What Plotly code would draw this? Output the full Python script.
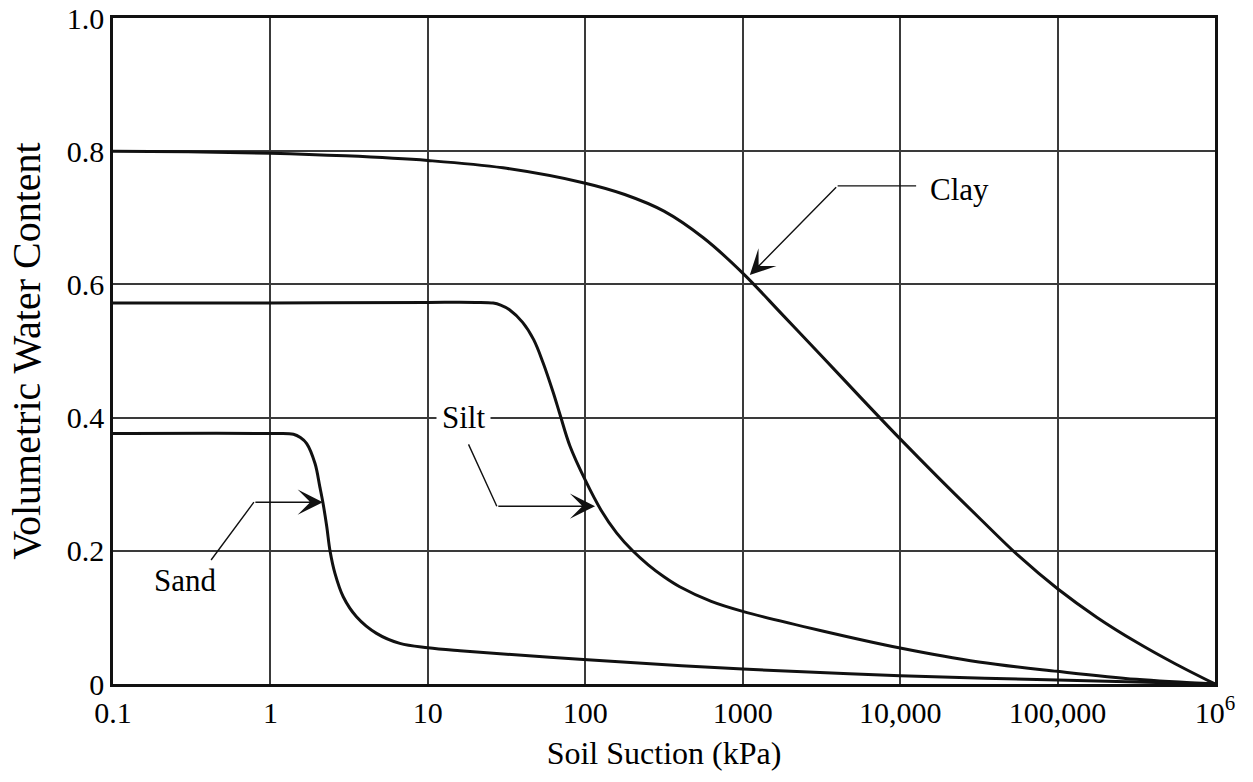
import plotly.graph_objects as go

# ---- data ----
clay_x = [0.1, 0.3, 1, 3, 10, 30, 100, 178, 316, 562, 1000, 1780, 3160, 5620, 10000,
          17800, 31600, 56200, 100000, 178000, 316000, 562000, 1000000]
clay_y = [0.800, 0.799, 0.797, 0.793, 0.786, 0.775, 0.752, 0.735, 0.710, 0.670, 0.617,
          0.555, 0.493, 0.430, 0.368, 0.308, 0.250, 0.193, 0.143, 0.100, 0.063, 0.030, 0.0]

silt_x = [0.1, 1, 10, 20, 26, 29, 33, 40, 47, 54, 62.5, 69, 80, 100, 126, 158, 200,
          251, 316, 398, 631, 1000, 3160, 10000, 31600, 100000, 316000, 1000000]
silt_y = [0.572, 0.572, 0.573, 0.573, 0.572, 0.569, 0.562, 0.543, 0.517, 0.482,
          0.438, 0.405, 0.357, 0.306, 0.261, 0.227, 0.200, 0.179, 0.161, 0.146,
          0.124, 0.109, 0.080, 0.054, 0.033, 0.019, 0.007, 0.0]

sand_x = [0.1, 1, 1.4, 1.55, 1.7, 1.92, 2.06, 2.16, 2.28, 2.39, 2.57, 2.90, 3.52,
          4.72, 6.64, 10, 16, 92, 1000, 10000, 100000, 1000000]
sand_y = [0.376, 0.376, 0.375, 0.370, 0.361, 0.331, 0.296, 0.271, 0.236, 0.200,
          0.166, 0.131, 0.101, 0.076, 0.061, 0.0545, 0.050, 0.037, 0.0225, 0.0125,
          0.006, 0.0]

x_tickvals = [0.1, 1, 10, 100, 1000, 10000, 100000, 1000000]
x_ticktext = ["0.1", "1", "10", "100", "1000", "10,000", "100,000", "10<sup>6</sup>"]
y_tickvals = [0, 0.2, 0.4, 0.6, 0.8, 1.0]
y_ticktext = ["0", "0.2", "0.4", "0.6", "0.8", "1.0"]

FONT = "Liberation Serif"
LINE = "#111111"
GRID = "#3a3a3a"

fig = go.Figure()
for xs, ys, name in [(clay_x, clay_y, "Clay"), (silt_x, silt_y, "Silt"), (sand_x, sand_y, "Sand")]:
    fig.add_trace(go.Scatter(x=xs, y=ys, mode="lines", name=name,
                             line=dict(color=LINE, width=3, shape="spline", smoothing=1.0),
                             showlegend=False, hoverinfo="x+y+name"))

annotations = []

def seg(x0, y0, x1, y1, head):
    # line from (x0,y0) to (x1,y1); x in log10 units (annotation convention on log axes)
    annotations.append(dict(x=x1, y=y1, ax=x0, ay=y0, xref="x", yref="y",
                            axref="x", ayref="y", text="", showarrow=True,
                            arrowhead=3 if head else 0, arrowsize=3.0 if head else 1,
                            arrowwidth=1.4, arrowcolor=LINE, standoff=0, startstandoff=0))

def label(x, y, text, xanchor="center", bg=None):
    annotations.append(dict(x=x, y=y, xref="x", yref="y", text=text, showarrow=False,
                            xanchor=xanchor, yanchor="middle",
                            font=dict(family=FONT, size=31, color="black"),
                            bgcolor=bg if bg else "rgba(0,0,0,0)", borderpad=5))

# Clay
seg(4.111, 0.748, 3.603, 0.748, False)
seg(3.603, 0.748, 3.045, 0.614, True)
label(4.15, 0.742, "Clay", xanchor="left")
# Silt
label(1.229, 0.400, "Silt", bg="white")
seg(1.254, 0.362, 1.438, 0.267, False)
seg(1.438, 0.267, 2.062, 0.267, True)
# Sand
label(-0.537, 0.155, "Sand")
seg(-0.384, 0.184, -0.105, 0.273, False)
seg(-0.105, 0.273, 0.333, 0.273, True)

axis_common = dict(showgrid=True, gridcolor=GRID, gridwidth=2, zeroline=False,
                   showline=True, linecolor=LINE, linewidth=2.5, mirror=True, ticks="",
                   automargin=False,
                   tickfont=dict(family=FONT, size=30, color="black"))

fig.update_layout(
    width=1253, height=782, autosize=False,
    margin=dict(l=113, r=38, t=18, b=98),
    paper_bgcolor="white", plot_bgcolor="white",
    font=dict(family=FONT, color="black"),
    annotations=annotations,
    xaxis=dict(type="log", range=[-1, 6], tickvals=x_tickvals, ticktext=x_ticktext,
               title=dict(text="Soil Suction (kPa)", font=dict(family=FONT, size=32), standoff=14),
               **axis_common),
    yaxis=dict(range=[0, 1], tickvals=y_tickvals, ticktext=y_ticktext,
               title=dict(text="Volumetric Water Content", font=dict(family=FONT, size=40), standoff=14),
               **axis_common),
)

fig.write_html("out.html")
